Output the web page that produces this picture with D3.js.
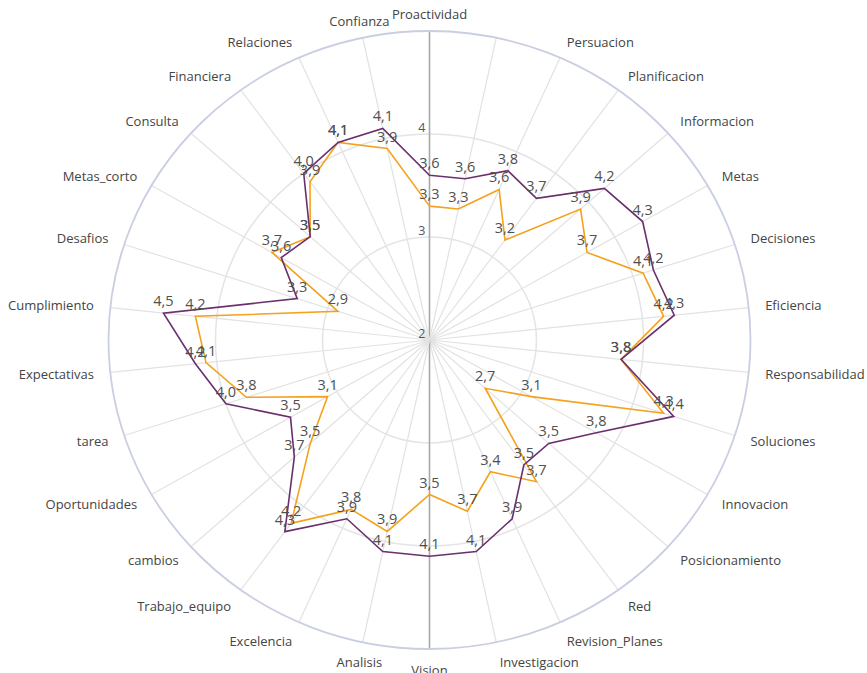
<!DOCTYPE html>
<html>
<head>
<meta charset="utf-8">
<script src="https://cdn.jsdelivr.net/npm/d3@7"></script>
<style>
  body { margin: 0; background: #fff; }
  svg text { font-family: "Open Sans", "Liberation Sans", sans-serif; }
</style>
</head>
<body>
<div id="chart"></div>
<script>
// categories, clockwise from the top (one spoke has no label)
var categories = ["Proactividad", "", "Persuacion", "Planificacion", "Informacion", "Metas",
  "Decisiones", "Eficiencia", "Responsabilidad", "Soluciones", "Innovacion", "Posicionamiento",
  "Red", "Revision_Planes", "Investigacion", "Vision", "Analisis", "Excelencia", "Trabajo_equipo",
  "cambios", "Oportunidades", "tarea", "Expectativas", "Cumplimiento", "Desafios", "Metas_corto",
  "Consulta", "Financiera", "Relaciones", "Confianza"];

var serieMorada = [3.6, 3.6, 3.8, 3.7, 4.2, 4.3, 4.2, 4.3, 3.8, 4.4, 3.8, 3.5, 3.5, 3.9, 4.1,
  4.1, 4.1, 3.9, 4.3, 3.7, 3.5, 4.0, 4.2, 4.5, 3.3, 3.6, 3.5, 4.0, 4.1, 4.1];

var serieNaranja = [3.3, 3.3, 3.6, 3.2, 3.9, 3.7, 4.1, 4.2, 3.8, 4.3, 3.1, 2.7, 3.7, 3.4, 3.7,
  3.5, 3.9, 3.8, 4.2, 3.5, 3.1, 3.8, 4.1, 4.2, 2.9, 3.7, 3.5, 3.9, 4.1, 3.9];

var radialTicks = [2, 3, 4];
var radialMax = 5;

// set the dimensions
var width = 867, height = 673;
var cx = 429.5, cy = 340;

var svg = d3.select("#chart")
  .append("svg")
  .attr("width", width)
  .attr("height", height);

var g = svg.append("g")
  .attr("transform", "translate(" + cx + "," + cy + ")");

// angle and radius scales (picture is slightly wider than tall)
var n = categories.length;
var angle = d3.scaleLinear().domain([0, n]).range([0, 2 * Math.PI]);
var rX = d3.scaleLinear().domain([2, radialMax]).range([0, 321]);
var rY = d3.scaleLinear().domain([2, radialMax]).range([0, 309]);

function px(i, v) { return rX(v) * Math.sin(angle(i)); }
function py(i, v) { return -rY(v) * Math.cos(angle(i)); }

// grid rings
g.selectAll(".ring")
  .data(radialTicks.filter(function(d) { return d > 2; }))
  .enter()
  .append("ellipse")
  .attr("rx", function(d) { return rX(d); })
  .attr("ry", function(d) { return rY(d); })
  .style("fill", "none")
  .style("stroke", "#e4e4e4")
  .style("stroke-width", 1.5);

// spokes
g.selectAll(".spoke")
  .data(categories)
  .enter()
  .append("line")
  .attr("x1", 0).attr("y1", 0)
  .attr("x2", function(d, i) { return px(i, radialMax); })
  .attr("y2", function(d, i) { return py(i, radialMax); })
  .style("stroke", function(d, i) { return (i === 0 || i === n / 2) ? "#a8a8a8" : "#e2e2e2"; })
  .style("stroke-width", function(d, i) { return (i === 0 || i === n / 2) ? 1.6 : 1.2; });

// outer ring
g.append("ellipse")
  .attr("rx", rX(radialMax))
  .attr("ry", rY(radialMax))
  .style("fill", "none")
  .style("stroke", "#c9cee2")
  .style("stroke-width", 1.8);

// radial tick labels
g.selectAll(".rtick")
  .data(radialTicks)
  .enter()
  .append("text")
  .attr("x", -4)
  .attr("y", function(d) { return -rY(d) - 2; })
  .attr("text-anchor", "end")
  .style("font-size", "12.5px")
  .style("fill", "#555")
  .text(function(d) { return d; });

// category labels
g.selectAll(".cat")
  .data(categories)
  .enter()
  .append("text")
  .attr("x", function(d, i) {
    var s = Math.sin(angle(i));
    return (rX(radialMax) + 8.5) * s + 8 * s;
  })
  .attr("y", function(d, i) {
    var c = Math.cos(angle(i));
    return -(rY(radialMax) + 8.5) * c + 4 - (c > 0 ? c * 8 : c * 13);
  })
  .attr("text-anchor", function(d, i) {
    var s = Math.sin(angle(i));
    return s > 0.01 ? "start" : (s < -0.25 ? "end" : "middle");
  })
  .style("font-size", "13px")
  .style("fill", "#444")
  .text(function(d) { return d; });

var fmt = function(v) { return d3.format(".1f")(v).replace(".", ","); };

var line = d3.line()
  .x(function(d, i) { return px(i, d); })
  .y(function(d, i) { return py(i, d); })
  .curve(d3.curveLinearClosed);

var series = [
  {name: "naranja", values: serieNaranja, color: "#f5a11c"},
  {name: "morada", values: serieMorada, color: "#6b2f6d"}
];

series.forEach(function(s) {
  g.append("path")
    .datum(s.values)
    .attr("d", line)
    .style("fill", "none")
    .style("stroke", s.color)
    .style("stroke-width", 1.6);
});

// value labels
series.forEach(function(s) {
  g.selectAll(".lbl-" + s.name)
    .data(s.values)
    .enter()
    .append("text")
    .attr("x", function(d, i) { return px(i, d); })
    .attr("y", function(d, i) { return py(i, d) - 7; })
    .attr("text-anchor", "middle")
    .style("font-size", "14.5px")
    .style("fill", "#505050")
    .text(function(d) { return fmt(d); });
});
</script>
</body>
</html>
